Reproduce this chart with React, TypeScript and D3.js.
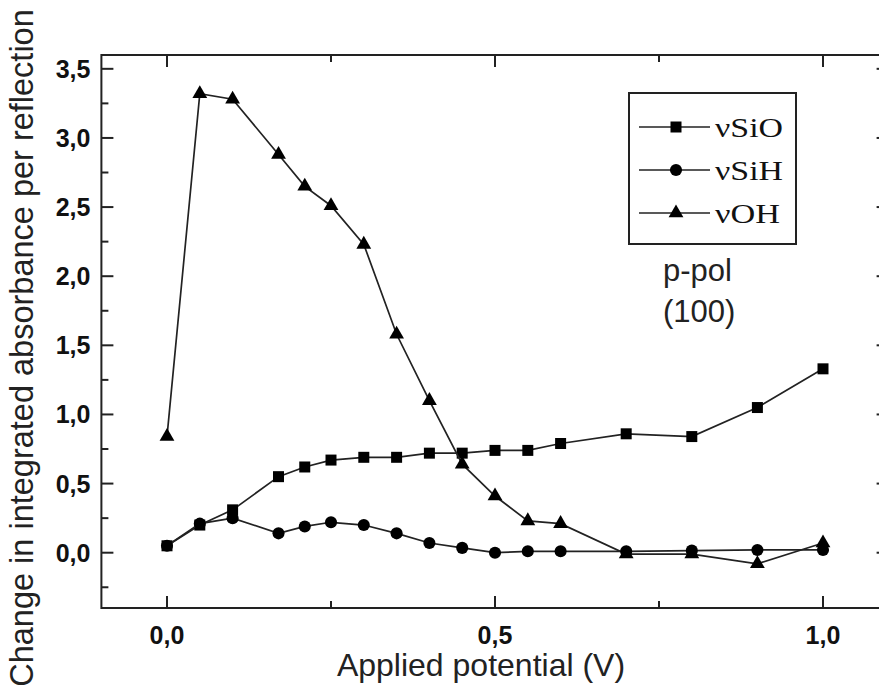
import React from "react";
import * as d3 from "d3";

// potential (V) of each measurement
const potentials = [0, 0.05, 0.1, 0.17, 0.21, 0.25, 0.3, 0.35, 0.4, 0.45, 0.5, 0.55, 0.6, 0.7, 0.8, 0.9, 1.0];

const vSiO = [0.05, 0.2, 0.31, 0.55, 0.62, 0.67, 0.69, 0.69, 0.72, 0.72, 0.74, 0.74, 0.79, 0.86, 0.84, 1.05, 1.33];
const vSiH = [0.05, 0.21, 0.25, 0.14, 0.19, 0.22, 0.2, 0.14, 0.07, 0.035, 0.0, 0.01, 0.01, 0.01, 0.015, 0.02, 0.02];
const vOH = [0.84, 3.32, 3.28, 2.88, 2.65, 2.51, 2.23, 1.58, 1.1, 0.64, 0.41, 0.23, 0.21, -0.01, -0.01, -0.08, 0.07];

const seriesNames = ["νSiO", "νSiH", "νOH"];
const xTickLabels = ["0,0", "0,5", "1,0"];
const yTickLabels = ["0,0", "0,5", "1,0", "1,5", "2,0", "2,5", "3,0", "3,5"];

const width = 879;
const height = 698;

const x = d3.scaleLinear().domain([-0.1, 1.1]).range([101.4, 888.6]);
const y = d3.scaleLinear().domain([-0.4, 3.6]).range([608, 55]);

const xMajor = [0, 0.5, 1.0];
const xMinor = [0.25, 0.75];
const yMajor = d3.range(0, 3.51, 0.5);
const yMinor = d3.range(-0.25, 3.3, 0.5);

const symbols = [
  d3.symbol(d3.symbolSquare, 121)(),
  d3.symbol(d3.symbolCircle, 115)(),
  d3.symbol(d3.symbolTriangle, 95)(),
];

const App = () => {
  const data = [vSiO, vSiH, vOH];
  const order = [0, 2, 1]; // circles drawn on top
  const line = d3
    .line<number>()
    .x((d, i) => x(potentials[i]))
    .y((d) => y(d));

  const [x0, x1] = x.range();
  const [y0, y1] = y.range();
  const major = 12;
  const minor = 7;

  return (
    <svg
      width={width}
      height={height}
      style={{ position: "absolute", left: 0, top: 0, background: "#fff" }}
      fontFamily="'Liberation Sans', Arial, sans-serif"
    >
      {/* frame */}
      <rect x={x0} y={y1} width={x1 - x0} height={y0 - y1} fill="none" stroke="#222" strokeWidth={2} />

      {/* ticks */}
      <g stroke="#222" strokeWidth={2}>
        {xMajor.map((t) => (
          <g key={"xM" + t}>
            <line x1={x(t)} x2={x(t)} y1={y0} y2={y0 - major} />
            <line x1={x(t)} x2={x(t)} y1={y1} y2={y1 + major} />
          </g>
        ))}
        {xMinor.map((t) => (
          <g key={"xm" + t}>
            <line x1={x(t)} x2={x(t)} y1={y0} y2={y0 - minor} />
            <line x1={x(t)} x2={x(t)} y1={y1} y2={y1 + minor} />
          </g>
        ))}
        {yMajor.map((t) => (
          <g key={"yM" + t}>
            <line x1={x0} x2={x0 + major} y1={y(t)} y2={y(t)} />
            <line x1={x1} x2={x1 - major} y1={y(t)} y2={y(t)} />
          </g>
        ))}
        {yMinor.map((t) => (
          <g key={"ym" + t}>
            <line x1={x0} x2={x0 + minor} y1={y(t)} y2={y(t)} />
            <line x1={x1} x2={x1 - minor} y1={y(t)} y2={y(t)} />
          </g>
        ))}
      </g>

      {/* tick labels */}
      <g fontWeight="bold" fontSize={25} fill="#111">
        {yMajor.map((t, i) => (
          <text key={"yl" + t} x={x0 - 11} y={y(t)} dy="0.36em" textAnchor="end">
            {yTickLabels[i]}
          </text>
        ))}
        {xMajor.map((t, i) => (
          <text key={"xl" + t} x={x(t)} y={y0 + 36} textAnchor="middle">
            {xTickLabels[i]}
          </text>
        ))}
      </g>

      {/* axis titles */}
      <text x={481} y={676} fontSize={32} textAnchor="middle" fill="#222">
        Applied potential (V)
      </text>
      <text
        transform={`translate(33, 348) rotate(-90)`}
        fontSize={32.5}
        textAnchor="middle"
        fill="#222"
      >
        Change in integrated absorbance per reflection
      </text>

      {/* series */}
      {order.map((s) => (
        <g key={"s" + s}>
          <path d={line(data[s]) || ""} fill="none" stroke="#222" strokeWidth={1.7} />
          {data[s].map((v, i) => (
            <path
              key={i}
              d={symbols[s] || ""}
              transform={`translate(${x(potentials[i])},${y(v)})`}
              fill="#000"
            />
          ))}
        </g>
      ))}

      {/* legend */}
      <rect x={629} y={93} width={167} height={151} fill="#fff" stroke="#222" strokeWidth={2} />
      {seriesNames.map((name, i) => {
        const cy = 127 + i * 43;
        return (
          <g key={name}>
            <line x1={639} x2={710} y1={cy} y2={cy} stroke="#222" strokeWidth={1.7} />
            <path d={symbols[i] || ""} transform={`translate(676,${cy})`} fill="#000" />
            <text
              x={715}
              y={cy + 10}
              fontFamily="'Liberation Serif', 'Times New Roman', serif"
              fontSize={28}
              fill="#111"
              textLength={i === 2 ? 65 : 68}
              lengthAdjust="spacingAndGlyphs"
            >
              {name}
            </text>
          </g>
        );
      })}

      <text x={663} y={281} fontSize={31} fill="#222">
        p-pol
      </text>
      <text x={663} y={322} fontSize={31} fill="#222">
        (100)
      </text>
    </svg>
  );
};

export default App;
